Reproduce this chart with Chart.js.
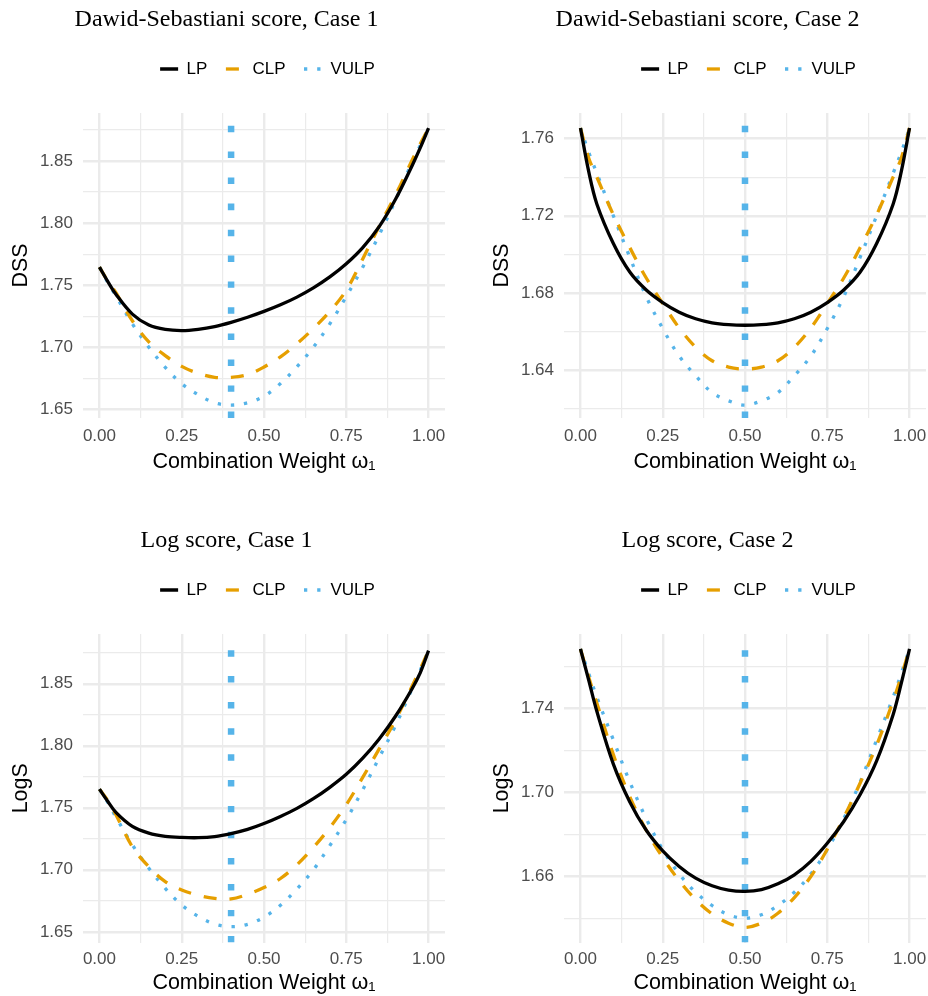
<!DOCTYPE html>
<html>
<head>
<meta charset="utf-8">
<script src="https://cdn.jsdelivr.net/npm/chart.js@4.4.1/dist/chart.umd.min.js"></script>
<style>
  html, body { margin: 0; padding: 0; background: #fff; overflow: hidden; }
  canvas { position: absolute; }
</style>
</head>
<body>
<canvas id="dss1" width="447" height="480" style="left:0px;top:0px"></canvas>
<canvas id="dss2" width="447" height="480" style="left:481px;top:0px"></canvas>
<canvas id="log1" width="447" height="475" style="left:0px;top:521px"></canvas>
<canvas id="log2" width="447" height="475" style="left:481px;top:521px"></canvas>
<script>
// combination weight grid (x values)
const weights = [0, 0.025, 0.05, 0.1, 0.15, 0.2, 0.25, 0.3, 0.35, 0.4, 0.45, 0.5,
                 0.55, 0.6, 0.65, 0.7, 0.75, 0.8, 0.85, 0.9, 0.95, 0.975, 1];

// Dawid-Sebastiani score, Case 1
const dss1LP   = [1.7646, 1.7532, 1.7428, 1.7268, 1.7180, 1.7145, 1.7136, 1.7146, 1.7168, 1.7202, 1.7243, 1.7290,
                  1.7343, 1.7405, 1.7479, 1.7567, 1.7673, 1.7803, 1.7971, 1.8193, 1.8461, 1.8606, 1.8763];
const dss1CLP  = [1.7646, 1.7535, 1.7440, 1.7215, 1.7045, 1.6935, 1.6848, 1.6792, 1.6760, 1.6760, 1.6782, 1.6843,
                  1.6925, 1.7030, 1.7152, 1.7290, 1.7460, 1.7712, 1.7975, 1.8228, 1.8505, 1.8638, 1.8763];
const dss1VULP = [1.7646, 1.7525, 1.7415, 1.7190, 1.7002, 1.6840, 1.6709, 1.6620, 1.6555, 1.6537, 1.6555, 1.6608,
                  1.6710, 1.6845, 1.7002, 1.7190, 1.7410, 1.7645, 1.7905, 1.8185, 1.8490, 1.8625, 1.8763];

// Dawid-Sebastiani score, Case 2
const dss2LP   = [1.7655, 1.7430, 1.7260, 1.7056, 1.6908, 1.6815, 1.6750, 1.6700, 1.6666, 1.6645, 1.6635, 1.6632,
                  1.6635, 1.6645, 1.6666, 1.6700, 1.6750, 1.6815, 1.6908, 1.7056, 1.7260, 1.7430, 1.7655];
const dss2CLP  = [1.7655, 1.7500, 1.7400, 1.7205, 1.7035, 1.6877, 1.6745, 1.6618, 1.6518, 1.6448, 1.6415, 1.6405,
                  1.6415, 1.6448, 1.6518, 1.6618, 1.6745, 1.6877, 1.7035, 1.7205, 1.7400, 1.7500, 1.7655];
const dss2VULP = [1.7655, 1.7530, 1.7420, 1.7200, 1.6985, 1.6780, 1.6615, 1.6472, 1.6370, 1.6283, 1.6240, 1.6218,
                  1.6240, 1.6283, 1.6370, 1.6472, 1.6615, 1.6780, 1.6985, 1.7200, 1.7420, 1.7530, 1.7655];

// Log score, Case 1
const log1LP   = [1.7650, 1.7553, 1.7463, 1.7350, 1.7296, 1.7270, 1.7261, 1.7259, 1.7268, 1.7292, 1.7326, 1.7373,
                  1.7430, 1.7495, 1.7573, 1.7665, 1.7770, 1.7900, 1.8055, 1.8240, 1.8460, 1.8590, 1.8767];
const log1CLP  = [1.7650, 1.7560, 1.7445, 1.7185, 1.7025, 1.6905, 1.6838, 1.6795, 1.6770, 1.6765, 1.6802, 1.6857,
                  1.6930, 1.7040, 1.7180, 1.7340, 1.7525, 1.7745, 1.7975, 1.8210, 1.8480, 1.8620, 1.8767];
const log1VULP = [1.7650, 1.7545, 1.7425, 1.7202, 1.7013, 1.6850, 1.6716, 1.6625, 1.6563, 1.6542, 1.6560, 1.6618,
                  1.6715, 1.6845, 1.7000, 1.7195, 1.7405, 1.7645, 1.7905, 1.8165, 1.8460, 1.8610, 1.8767];

// Log score, Case 2
const log2LP   = [1.7683, 1.7535, 1.7385, 1.7135, 1.6955, 1.6820, 1.6722, 1.6648, 1.6592, 1.6556, 1.6535, 1.6529,
                  1.6538, 1.6565, 1.6608, 1.6672, 1.6758, 1.6862, 1.6990, 1.7150, 1.7370, 1.7520, 1.7683];
const log2CLP  = [1.7683, 1.7550, 1.7425, 1.7180, 1.6980, 1.6820, 1.6690, 1.6580, 1.6490, 1.6422, 1.6378, 1.6358,
                  1.6378, 1.6425, 1.6500, 1.6600, 1.6730, 1.6880, 1.7045, 1.7225, 1.7435, 1.7555, 1.7683];
const log2VULP = [1.7683, 1.7567, 1.7453, 1.7250, 1.7050, 1.6875, 1.6728, 1.6612, 1.6525, 1.6462, 1.6418, 1.6402,
                  1.6418, 1.6462, 1.6525, 1.6612, 1.6728, 1.6875, 1.7050, 1.7250, 1.7453, 1.7567, 1.7683];

// optimal VULP weight in each case (vertical line)
const caseOptimum = [0.4, 0.5];

// y axis limits per panel
const dss1Range = [1.6433, 1.8885];
const dss2Range = [1.6151, 1.7733];
const log1Range = [1.6414, 1.8901];
const log2Range = [1.6286, 1.7754];

const colors = ['#000000', '#E69F00', '#56B4E9'];

Chart.defaults.font.family = "'Liberation Sans', Arial, 'DejaVu Sans', sans-serif";
Chart.defaults.animation = false;

function isMajor(v, base, step) {
  const r = (v - base) / step;
  return Math.abs(r - Math.round(r)) < 1e-6;
}

function toPoints(ys) {
  return weights.map((w, i) => ({ x: w, y: ys[i] }));
}

// shift title / legend a bit to the right like the ggplot layout
const nudge = {
  id: 'nudge',
  afterLayout(chart) {
    chart.titleBlock.left += 8;
    chart.legend.left += 90;
  }
};

function makePanel(id, o) {
  const ctx = document.getElementById(id).getContext('2d');
  const datasets = [
    { label: 'LP', data: toPoints(o.lp), borderColor: colors[0], borderWidth: 3.3 },
    { label: 'CLP', data: toPoints(o.clp), borderColor: colors[1], borderWidth: 3.3, borderDash: [13, 13] },
    { label: 'VULP', data: toPoints(o.vulp), borderColor: colors[2], borderWidth: 3.3, borderDash: [3.3, 9.9] },
    { label: 'opt', data: [{ x: o.opt, y: o.range[0] }, { x: o.opt, y: o.range[1] }],
      borderColor: colors[2], borderWidth: 6.5, borderDash: [6.5, 19.5], clip: 0 }
  ];
  datasets.forEach(d => {
    d.pointRadius = 0;
    d.fill = false;
    d.borderCapStyle = 'butt';
    d.tension = 0.35;
  });

  new Chart(ctx, {
    type: 'line',
    data: { datasets: datasets },
    plugins: [nudge],
    options: {
      responsive: false,
      events: [],
      layout: { padding: { left: 0, right: 2, top: 0, bottom: 0 } },
      plugins: {
        tooltip: { enabled: false },
        title: {
          display: true,
          text: o.title,
          color: '#000',
          font: { family: "'Liberation Serif', 'DejaVu Serif', serif", size: 24, weight: 'normal', lineHeight: 1.2 },
          padding: { top: 5.6, bottom: 7.6 }
        },
        subtitle: {
          display: true,
          text: ' ',
          weight: 500,
          font: { size: 2, lineHeight: 1 },
          padding: { top: 23.5, bottom: 0 }
        },
        legend: {
          display: true,
          position: 'top',
          labels: {
            usePointStyle: true,
            pointStyleWidth: 18,
            padding: 18.5,
            color: '#000',
            font: { size: 17 },
            generateLabels: chart => chart.data.datasets.slice(0, 3).map((d, i) => ({
              text: d.label,
              strokeStyle: d.borderColor,
              fillStyle: d.borderColor,
              lineWidth: d.borderWidth,
              lineDash: d.borderDash || [],
              lineCap: 'butt',
              pointStyle: 'line',
              fontColor: '#000',
              hidden: false,
              datasetIndex: i
            }))
          }
        }
      },
      scales: {
        x: {
          type: 'linear',
          min: -0.05,
          max: 1.05,
          afterFit: s => { s.height = o.xAxisH; s.paddingLeft = 0; s.paddingRight = 0; },
          border: { display: false },
          grid: {
            color: '#EBEBEB',
            drawTicks: false,
            lineWidth: c => isMajor(c.tick.value, 0, 0.25) ? 2.4 : 1.2
          },
          ticks: {
            stepSize: 0.125,
            includeBounds: false,
            autoSkip: false,
            maxRotation: 0,
            padding: o.tickPad,
            color: '#4D4D4D',
            font: { size: 17 },
            callback: v => isMajor(v, 0, 0.25) ? v.toFixed(2) : ''
          },
          title: {
            display: true,
            text: 'Combination Weight \u03C9\u2081',
            color: '#000',
            font: { size: 21.5, lineHeight: 1.2 },
            padding: { top: 0, bottom: o.xTitlePad }
          }
        },
        y: {
          type: 'linear',
          min: o.range[0],
          max: o.range[1],
          afterFit: s => { s.width = 83; s.paddingTop = 0; s.paddingBottom = 0; },
          border: { display: false },
          grid: {
            color: '#EBEBEB',
            drawTicks: false,
            lineWidth: c => isMajor(c.tick.value, o.yBase, o.yMajor) ? 2.4 : 1.2
          },
          ticks: {
            stepSize: o.yMajor / 2,
            includeBounds: false,
            autoSkip: false,
            padding: 10,
            color: '#4D4D4D',
            font: { size: 17 },
            callback: v => isMajor(v, o.yBase, o.yMajor) ? v.toFixed(2) : ''
          },
          title: {
            display: true,
            text: o.yTitle,
            color: '#000',
            font: { size: 21.5, lineHeight: 1.2 },
            padding: { top: 8, bottom: 0 }
          }
        }
      }
    }
  });
}

const topRow = { xAxisH: 62, tickPad: 8, xTitlePad: 5 };
const bottomRow = { xAxisH: 53.5, tickPad: 7, xTitlePad: 0 };

makePanel('dss1', Object.assign({ title: 'Dawid-Sebastiani score, Case 1', yTitle: 'DSS',
  lp: dss1LP, clp: dss1CLP, vulp: dss1VULP, opt: caseOptimum[0], range: dss1Range, yBase: 1.65, yMajor: 0.05 }, topRow));
makePanel('dss2', Object.assign({ title: 'Dawid-Sebastiani score, Case 2', yTitle: 'DSS',
  lp: dss2LP, clp: dss2CLP, vulp: dss2VULP, opt: caseOptimum[1], range: dss2Range, yBase: 1.64, yMajor: 0.04 }, topRow));
makePanel('log1', Object.assign({ title: 'Log score, Case 1', yTitle: 'LogS',
  lp: log1LP, clp: log1CLP, vulp: log1VULP, opt: caseOptimum[0], range: log1Range, yBase: 1.65, yMajor: 0.05 }, bottomRow));
makePanel('log2', Object.assign({ title: 'Log score, Case 2', yTitle: 'LogS',
  lp: log2LP, clp: log2CLP, vulp: log2VULP, opt: caseOptimum[1], range: log2Range, yBase: 1.66, yMajor: 0.04 }, bottomRow));
</script>
</body>
</html>
